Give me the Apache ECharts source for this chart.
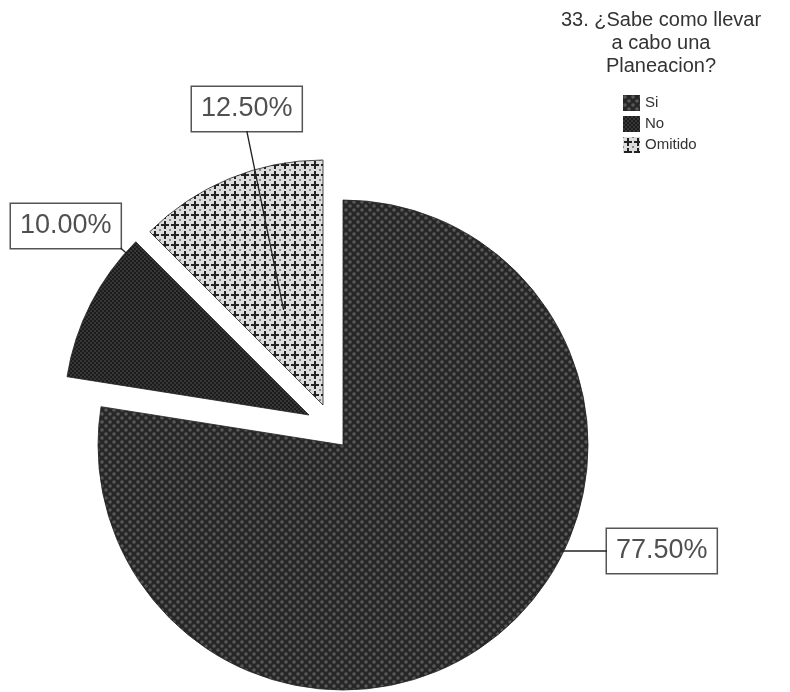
<!DOCTYPE html>
<html>
<head>
<meta charset="utf-8">
<script src="https://cdn.jsdelivr.net/npm/echarts@6/dist/echarts.min.js"></script>
<style>
  html, body { margin: 0; padding: 0; background: #fff; }
  #chart { width: 790px; height: 692px; }
</style>
</head>
<body>
<div id="chart"></div>
<script>
// Respuestas a la pregunta 33
const categories = ['Si', 'No', 'Omitido'];
const percentValues = [77.5, 10.0, 12.5];
const titleText = '33. ¿Sabe como llevar\na cabo una\nPlaneacion?';

// Texturas de relleno (tramas tipo SPSS)
function makeTile(size, draw) {
  const c = document.createElement('canvas');
  c.width = size; c.height = size;
  draw(c.getContext('2d'), size);
  return c;
}
const checkerTile = makeTile(8, (g, s) => {
  g.fillStyle = '#272727'; g.fillRect(0, 0, s, s);
  g.fillStyle = '#585858';
  g.beginPath(); g.arc(2, 2, 1.8, 0, Math.PI * 2); g.fill();
  g.beginPath(); g.arc(6, 6, 1.8, 0, Math.PI * 2); g.fill();
});
const darkTile = makeTile(4, (g, s) => {
  g.fillStyle = '#1c1c1c'; g.fillRect(0, 0, s, s);
  g.fillStyle = '#363636';
  g.fillRect(0, 0, 2, 2); g.fillRect(2, 2, 2, 2);
});
const crossTile = makeTile(10, (g, s) => {
  g.fillStyle = '#dcdcdc'; g.fillRect(0, 0, s, s);
  g.fillStyle = '#222';
  g.fillRect(4, 1, 2, 8);
  g.fillRect(1, 4, 8, 2);
  g.fillStyle = '#888';
  g.fillRect(0, 0, 1, 1); g.fillRect(9, 9, 1, 1); g.fillRect(9, 0, 1, 1); g.fillRect(0, 9, 1, 1);
});
const fills = [
  { image: checkerTile, repeat: 'repeat' },
  { image: darkTile, repeat: 'repeat' },
  { image: crossTile, repeat: 'repeat' }
];

// Geometría del pastel y desplazamiento (explosión) de cada sector
const pieCenter = [343, 445];
const pieRadius = 245;
const explode = [[0, 0], [-34, -30], [-20, -40]];

// Esquina superior izquierda de cada recuadro de etiqueta
const labelBoxes = [
  { x: 607, y: 529 },
  { x: 11, y: 204 },
  { x: 192, y: 87 }
];

const fontFamily = 'Liberation Sans, Arial, sans-serif';
const labelFontSize = 27;
const labelLineHeight = 28;
const labelPadding = [8, 9, 8, 9];

const labelText = v => v.toFixed(2) + '%';

// Tamaño del recuadro de cada etiqueta
const measureCtx = document.createElement('canvas').getContext('2d');
measureCtx.font = labelFontSize + 'px ' + fontFamily;
function labelSize(k) {
  return {
    w: measureCtx.measureText(labelText(percentValues[k])).width + labelPadding[1] + labelPadding[3],
    h: labelLineHeight + labelPadding[0] + labelPadding[2]
  };
}

// Ángulo medio de cada sector (radianes, horario desde las 12)
function midAngle(k) {
  let start = 0;
  for (let i = 0; i < k; i++) start += percentValues[i];
  return (start + percentValues[k] / 2) / 100 * Math.PI * 2;
}

// Línea guía de cada etiqueta, calculada a partir del recuadro y del sector
function leaderPoints(k) {
  const { w, h } = labelSize(k);
  const cx = pieCenter[0] + explode[k][0];
  const cy = pieCenter[1] + explode[k][1];
  const box = labelBoxes[k];
  if (k === 0) {
    // horizontal desde el borde izquierdo del recuadro hasta el contorno
    const y = box.y + h / 2;
    const x = cx + Math.sqrt(pieRadius * pieRadius - (y - cy) * (y - cy));
    return [[box.x, y], [x - 2, y]];
  }
  if (k === 1) {
    // desde la esquina inferior derecha hacia el arco más cercano
    const px = box.x + w, py = box.y + h;
    const dx = px - cx, dy = py - cy;
    const d = Math.sqrt(dx * dx + dy * dy);
    return [[px, py], [cx + dx / d * pieRadius * 0.985, cy + dy / d * pieRadius * 0.985]];
  }
  // desde el centro inferior del recuadro hasta el interior del sector
  const a = midAngle(k);
  const rr = pieRadius * 0.42;
  return [[box.x + w / 2, box.y + h], [cx + Math.sin(a) * rr, cy - Math.cos(a) * rr]];
}

// Una serie por sector: así cada sector puede separarse por su cuenta
const series = categories.map((cat, k) => ({
  type: 'pie',
  name: cat,
  center: [pieCenter[0] + explode[k][0], pieCenter[1] + explode[k][1]],
  radius: pieRadius,
  startAngle: 90,
  clockwise: true,
  silent: true,
  avoidLabelOverlap: false,
  emphasis: { disabled: true },
  label: {
    show: true,
    position: 'outside',
    formatter: p => labelText(p.value),
    fontFamily: fontFamily,
    fontSize: labelFontSize,
    lineHeight: labelLineHeight,
    color: '#505050',
    backgroundColor: '#fff',
    borderColor: '#555',
    borderWidth: 1.5,
    padding: labelPadding
  },
  labelLine: { show: false },
  labelLayout: params => params.dataIndex === k ? {
    x: labelBoxes[k].x,
    y: labelBoxes[k].y,
    align: 'left',
    verticalAlign: 'top'
  } : {},
  data: categories.map((name, i) => ({
    name: name,
    value: percentValues[i],
    itemStyle: i === k
      ? { color: fills[i], borderColor: '#222', borderWidth: 0.8 }
      : { color: 'rgba(0,0,0,0)', borderWidth: 0 },
    label: { show: i === k }
  }))
}));

// Líneas guía por encima de los sectores
const leaderLines = categories.map((cat, k) => ({
  type: 'polyline',
  z: 100,
  silent: true,
  shape: { points: leaderPoints(k) },
  style: { stroke: '#222', lineWidth: 1.3, fill: null }
}));

const chart = echarts.init(document.getElementById('chart'), null, { renderer: 'canvas' });

chart.setOption({
  animation: false,
  backgroundColor: '#ffffff',
  title: {
    text: titleText,
    left: 656,
    top: 4,
    textAlign: 'center',
    textStyle: {
      fontFamily: fontFamily,
      fontSize: 20,
      fontWeight: 'normal',
      color: '#333',
      lineHeight: 23,
      align: 'center'
    }
  },
  legend: {
    orient: 'vertical',
    left: 618,
    top: 90,
    itemWidth: 17,
    itemHeight: 16,
    itemGap: 5,
    icon: 'rect',
    selectedMode: false,
    data: categories.map((name, i) => ({ name: name, itemStyle: { color: fills[i] } })),
    textStyle: {
      fontFamily: fontFamily,
      fontSize: 15,
      color: '#333',
      padding: [0, 0, 0, 0]
    }
  },
  graphic: leaderLines,
  series: series
});
</script>
</body>
</html>
